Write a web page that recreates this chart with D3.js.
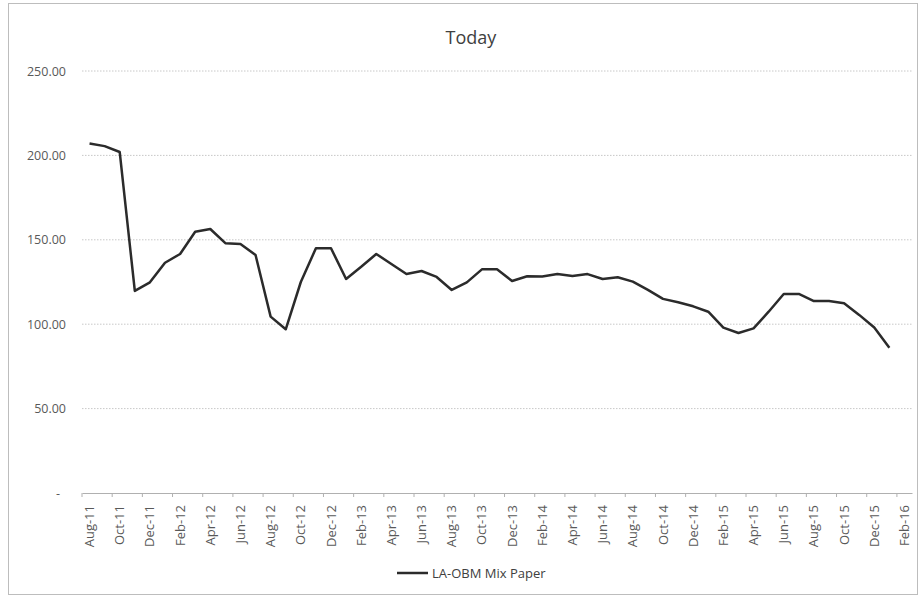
<!DOCTYPE html>
<html>

<head>
    <meta charset="utf-8">
    <script src="https://d3js.org/d3.v7.min.js"></script>
    <style>
        body { margin: 0; background: #fff; }
        text { font-family: "Open Sans", "Liberation Sans", sans-serif; }
    </style>
    <script>
        // months on the category axis (Feb-16 has no value, only a label)
        let months = [
            "Aug-11", "Sep-11", "Oct-11", "Nov-11", "Dec-11",
            "Jan-12", "Feb-12", "Mar-12", "Apr-12", "May-12", "Jun-12", "Jul-12", "Aug-12", "Sep-12", "Oct-12", "Nov-12", "Dec-12",
            "Jan-13", "Feb-13", "Mar-13", "Apr-13", "May-13", "Jun-13", "Jul-13", "Aug-13", "Sep-13", "Oct-13", "Nov-13", "Dec-13",
            "Jan-14", "Feb-14", "Mar-14", "Apr-14", "May-14", "Jun-14", "Jul-14", "Aug-14", "Sep-14", "Oct-14", "Nov-14", "Dec-14",
            "Jan-15", "Feb-15", "Mar-15", "Apr-15", "May-15", "Jun-15", "Jul-15", "Aug-15", "Sep-15", "Oct-15", "Nov-15", "Dec-15",
            "Jan-16", "Feb-16"
        ];

        // LA-OBM Mix Paper, Aug-11 .. Jan-16
        let mixPaper = [
            207, 205.5, 202, 119.7, 124.8,
            136.4, 141.6, 154.8, 156.4, 148, 147.5, 141, 104.5, 97, 125, 145, 145,
            126.8, 134, 141.6, 135.7, 129.7, 131.5, 128, 120.3, 124.8, 132.5, 132.5, 125.6,
            128.4, 128.2, 129.7, 128.6, 129.7, 126.8, 127.8, 125.2, 120.3, 115, 113, 110.6,
            107.4, 98, 94.8, 97.5, 107.4, 117.9, 117.9, 113.7, 113.7, 112.4, 105.5, 98,
            86
        ];

        let yTicks = [0, 50, 100, 150, 200, 250];
        let seriesName = "LA-OBM Mix Paper";
        let chartTitle = "Today";

        function draw() {
            let width = 918;
            let height = 596;

            let svg = d3.select('body').append('svg')
                .attr('width', width)
                .attr('height', height);

            // chart area border
            svg.append('rect')
                .attr('x', 8.5).attr('y', 3.5)
                .attr('width', width - 9).attr('height', height - 5)
                .attr('fill', 'none')
                .attr('stroke', '#bdbdbd');

            let x_scale = d3.scaleBand()
                .domain(months)
                .range([82, 912]);

            let y_scale = d3.scaleLinear()
                .domain([0, 250])
                .range([493, 71]);

            // gridlines
            svg.selectAll('line.grid')
                .data(yTicks.filter(d => d > 0))
                .enter()
                .append('line')
                    .attr('class', 'grid')
                    .attr('x1', 82).attr('x2', 912)
                    .attr('y1', d => y_scale(d)).attr('y2', d => y_scale(d))
                    .attr('stroke', '#c8c8c8')
                    .attr('stroke-dasharray', '1.5,1.5');

            // y labels
            svg.selectAll('text.ylab')
                .data(yTicks)
                .enter()
                .append('text')
                    .attr('class', 'ylab')
                    .attr('x', d => d === 0 ? 60 : 66)
                    .attr('y', d => y_scale(d) + 4.5)
                    .attr('text-anchor', 'end')
                    .attr('font-size', 12.5)
                    .attr('fill', '#595959')
                    .text(d => d === 0 ? '-' : d3.format('.2f')(d));

            // x axis
            let x_axis = d3.axisBottom(x_scale)
                .tickValues(months.filter((d, i) => i % 2 === 0))
                .tickSize(4)
                .tickSizeOuter(0);

            let gx = svg.append('g')
                .attr('transform', 'translate(0,493)')
                .call(x_axis);

            gx.select('.domain').attr('stroke', '#b0b0b0');
            gx.selectAll('.tick line')
                .attr('stroke', '#b0b0b0')
                .attr('transform', 'translate(' + (-x_scale.bandwidth() / 2) + ',0)');
            gx.selectAll('.tick text')
                .attr('font-size', 13)
                .attr('fill', '#595959')
                .attr('transform', 'rotate(-90)')
                .attr('text-anchor', 'end')
                .attr('x', -12)
                .attr('y', 0)
                .attr('dy', '0.35em')
                .attr('font-family', '"Open Sans", sans-serif');

            // series line
            let line = d3.line()
                .x((d, i) => x_scale(months[i]) + x_scale.bandwidth() / 2)
                .y(d => y_scale(d));

            svg.append('path')
                .datum(mixPaper)
                .attr('d', line)
                .attr('fill', 'none')
                .attr('stroke', '#2b2b2b')
                .attr('stroke-width', 2.5)
                .attr('stroke-linejoin', 'round');

            // title
            svg.append('text')
                .attr('x', 471).attr('y', 44)
                .attr('text-anchor', 'middle')
                .attr('font-size', 18)
                .attr('fill', '#404040')
                .text(chartTitle);

            // legend
            let lg = svg.append('g').attr('transform', 'translate(397,573)');
            lg.append('line')
                .attr('x1', 0).attr('x2', 31)
                .attr('y1', 0).attr('y2', 0)
                .attr('stroke', '#2b2b2b')
                .attr('stroke-width', 2.5);
            lg.append('text')
                .attr('x', 35).attr('y', 4.5)
                .attr('font-size', 13)
                .attr('fill', '#404040')
                .text(seriesName);
        }
    </script>
</head>

<body>
    <script>
        draw();
    </script>
</body>

</html>
